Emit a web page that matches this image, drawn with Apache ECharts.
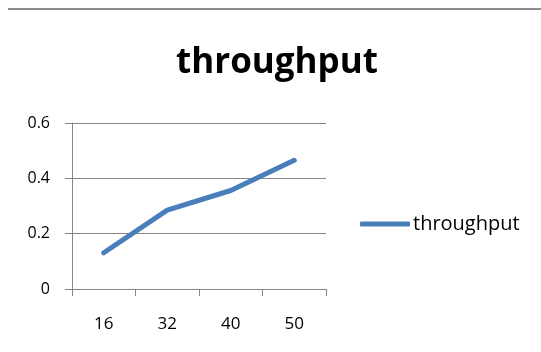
<!DOCTYPE html>
<html>
<head>
<meta charset="utf-8">
<script src="https://cdn.jsdelivr.net/npm/echarts@6/dist/echarts.min.js"></script>
<style>html,body{margin:0;padding:0;background:#fff}#c{width:541px;height:352px}</style>
</head>
<body>
<div id="c"></div>
<script>
var categories = ['16', '32', '40', '50'];
var throughput = [0.131, 0.285, 0.356, 0.465];
var yTicks = [0, 0.2, 0.4, 0.6];

var chart = echarts.init(document.getElementById('c'), null, {renderer: 'canvas'});
chart.setOption({
  animation: false,
  backgroundColor: '#ffffff',
  title: {
    text: 'throughput',
    left: 277, top: 46, textAlign: 'center', padding: 0,
    textStyle: {fontFamily: 'Open Sans', fontWeight: 'bold', fontSize: 35, color: '#000'}
  },
  graphic: [{
    type: 'line', shape: {x1: 8, y1: 9, x2: 541, y2: 9},
    style: {stroke: '#8c8c8c', lineWidth: 2}
  }],
  legend: {
    left: 360, top: 214, itemWidth: 50, itemHeight: 5, itemGap: 4, padding: 0,
    icon: 'roundRect',
    data: [{name: 'throughput'}],
    textStyle: {fontFamily: 'Open Sans', fontSize: 20, color: '#000', padding: [0, 0, 0, -2]}
  },
  grid: {left: 72, right: 215, top: 123, bottom: 63},
  xAxis: {
    type: 'category', data: categories, boundaryGap: true,
    axisLine: {lineStyle: {color: '#868686', width: 1}},
    axisTick: {show: true, length: 7, lineStyle: {color: '#868686'}},
    axisLabel: {margin: 27, fontFamily: 'Open Sans', fontSize: 17, color: '#000'}
  },
  yAxis: {
    type: 'value', min: 0, max: 0.6, interval: 0.2,
    axisLine: {show: true, lineStyle: {color: '#868686', width: 1}},
    axisTick: {show: true, length: 7, lineStyle: {color: '#868686'}},
    splitLine: {show: true, lineStyle: {color: '#868686', width: 1}},
    axisLabel: {margin: 22, fontFamily: 'Open Sans', fontSize: 16, color: '#000',
      formatter: function (v) { return yTicks.indexOf(v) >= 0 ? String(v) : ''; }}
  },
  series: [{
    name: 'throughput', type: 'line', data: throughput,
    symbol: 'none', smooth: false,
    lineStyle: {color: '#4a7ebb', width: 5, cap: 'round', join: 'round'},
    itemStyle: {color: '#4a7ebb'}
  }]
});
</script>
</body>
</html>
